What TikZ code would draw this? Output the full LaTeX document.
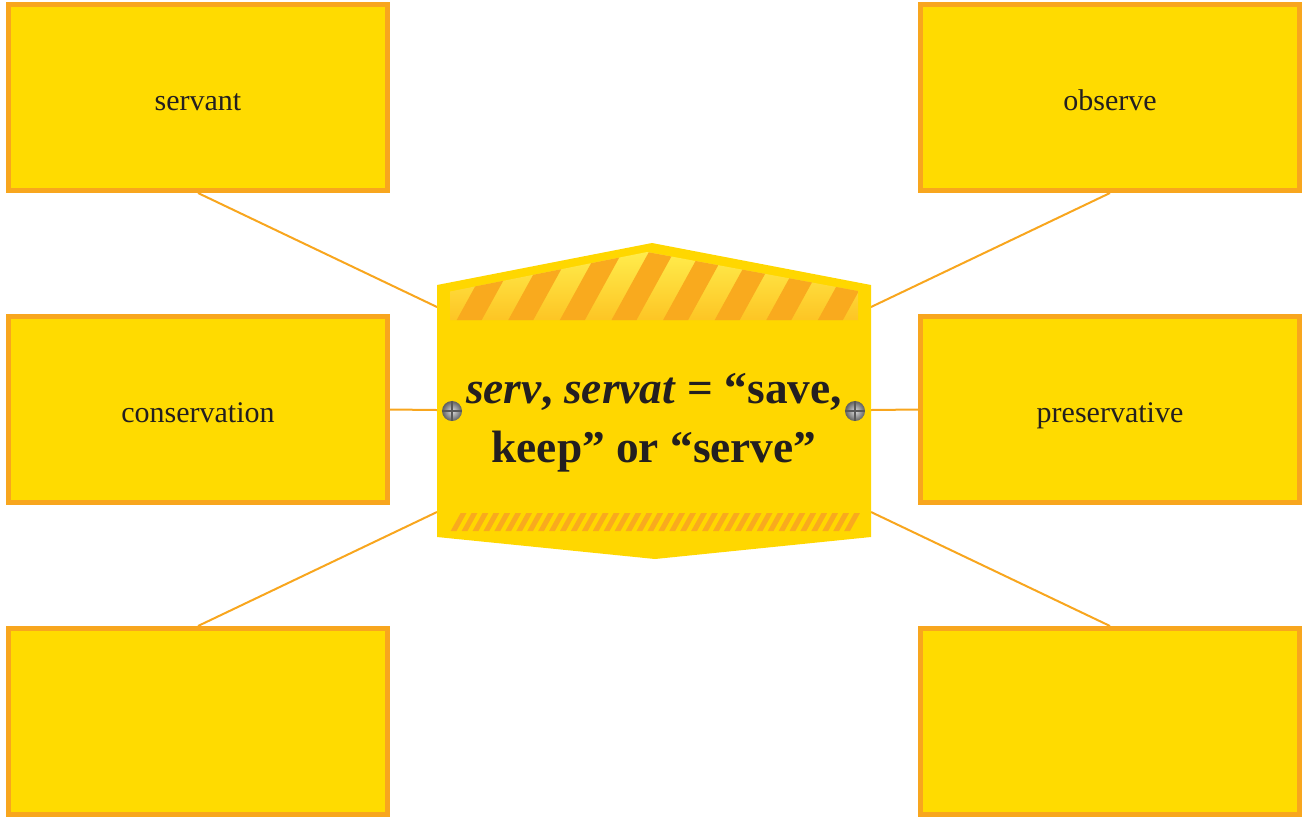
\documentclass[tikz,border=0pt]{standalone}
\usepackage{fontspec}
\setmainfont{Liberation Serif}
\definecolor{boxyellow}{RGB}{255,219,0}
\definecolor{signyellow}{RGB}{255,215,0}
\definecolor{edgeorange}{RGB}{248,166,30}
\definecolor{stripeorange}{RGB}{249,170,30}
\definecolor{ink}{RGB}{35,31,32}
\definecolor{lightstripe}{RGB}{255,240,80}
\definecolor{darkstripe}{RGB}{253,196,35}
\begin{document}
\begin{tikzpicture}[x=0.75pt,y=-0.75pt,
  wordbox/.style={draw=edgeorange, fill=boxyellow, line width=3.75pt,
    minimum width=284.25pt, minimum height=139.5pt, inner sep=0pt,
    font=\fontsize{22.5}{27}\selectfont, text=ink,
    text height=22pt, text depth=3.25pt},
  link/.style={draw=edgeorange, line width=1.5pt},
  screwhead/.style={circle, inner sep=0pt, minimum size=15pt,
    inner color=gray!25, outer color=gray!75!black},
  screwcut/.style={draw=black!65, line width=1.1pt}]
\useasboundingbox (0,0) rectangle (1307,819);
% word boxes
\node[wordbox] (servant) at (198,97.5) {servant};
\node[wordbox] (conservation) at (198,409.5) {conservation};
\node[wordbox] (bl) at (198,721.5) {};
\node[wordbox] (observe) at (1110,97.5) {observe};
\node[wordbox] (preservative) at (1110,409.5) {preservative};
\node[wordbox] (br) at (1110,721.5) {};
% sign outline points
\coordinate (sTL) at (437,285);
\coordinate (peak) at (652,243);
\coordinate (sTR) at (871,285);
\coordinate (sBR) at (871,537);
\coordinate (sBot) at (655,559);
\coordinate (sBL) at (437,537);
\coordinate (aNW) at (437,307);
\coordinate (aNE) at (871,307);
\coordinate (aW) at (437,410);
\coordinate (aE) at (871,410);
\coordinate (aSW) at (437,512);
\coordinate (aSE) at (871,512);
% connectors
\draw[link] (servant.south) -- (aNW);
\draw[link] (observe.south) -- (aNE);
\draw[link] (conservation.east) -- (aW);
\draw[link] (preservative.west) -- (aE);
\draw[link] (bl.north) -- (aSW);
\draw[link] (br.north) -- (aSE);
% sign body
\fill[signyellow] (sTL) -- (peak) -- (sTR) -- (sBR) -- (sBot) -- (sBL) -- cycle;
% top hazard band
\begin{scope}
  \clip (450,291.5) -- (647,252) -- (858,291) -- (858,320) -- (450,320) -- cycle;
  \shade[top color=lightstripe, bottom color=darkstripe] (440,245) rectangle (870,322);
  \foreach \k in {-1,...,8} {
    \fill[stripeorange] ({456.7+\k*51.6},320) -- ({481.7+\k*51.6},320)
      -- ({525.7+\k*51.6},240) -- ({500.7+\k*51.6},240) -- cycle;
  }
\end{scope}
% bottom hazard band
\foreach \k in {0,...,36} {
  \fill[stripeorange] ({450.7+\k*10.93},531) -- ({456.5+\k*10.93},531)
    -- ({466.5+\k*10.93},513) -- ({460.7+\k*10.93},513) -- cycle;
}
% screws
\node[screwhead] (lscrew) at (452,411) {};
\node[screwhead] (rscrew) at (855,411) {};
\foreach \s in {lscrew, rscrew} {
  \draw[screwcut] (\s.west) -- (\s.east);
  \draw[screwcut] (\s.north) -- (\s.south);
}
% title
\node[font=\fontsize{34}{44}\selectfont\bfseries, text=ink, align=center, inner sep=0pt]
  (title) at (654,423) {\textit{serv}, \textit{servat} = “save,\\keep” or “serve”};
\end{tikzpicture}
\end{document}
